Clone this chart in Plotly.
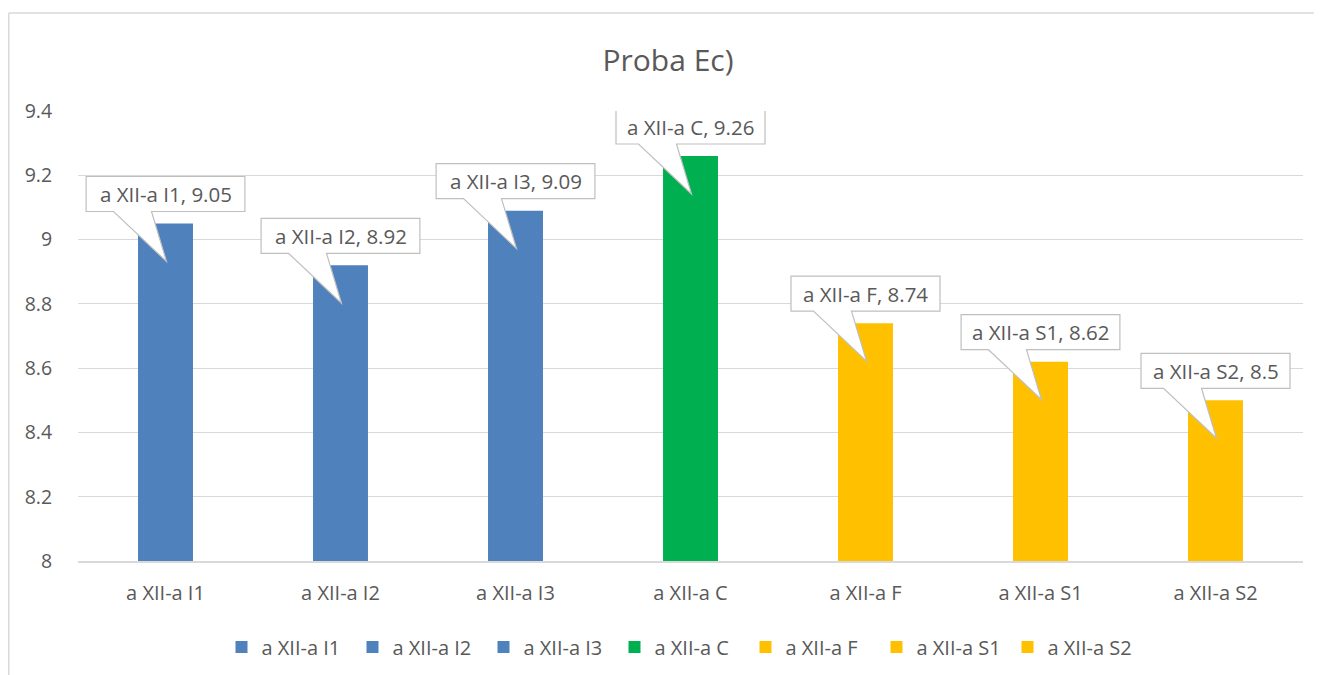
import plotly.graph_objects as go

categories = ["a XII-a I1", "a XII-a I2", "a XII-a I3", "a XII-a C", "a XII-a F", "a XII-a S1", "a XII-a S2"]
values = [9.05, 8.92, 9.09, 9.26, 8.74, 8.62, 8.5]
colors = ["#4f81bd", "#4f81bd", "#4f81bd", "#00b050", "#ffc000", "#ffc000", "#ffc000"]
y_ticks = [8, 8.2, 8.4, 8.6, 8.8, 9, 9.2, 9.4]

# page body has an 8px margin, so the figure is offset by (8, 8)
OFF = 8
W, H = 1322 - OFF, 675 - OFF
ML, MT = 78 - OFF, 111 - OFF
MR = W - (1303 - OFF)
MB = H - (561 - OFF)
PW, PH = W - ML - MR, H - MT - MB
YMIN, YMAX = 8, 9.4
dx = 1.0 / (PW / len(categories))   # category units per pixel
dy = (YMAX - YMIN) / PH              # data units per pixel

TXT = "#595959"
FONT = "'Open Sans', 'Noto Sans', sans-serif"

fig = go.Figure()
for i, (c, v, col) in enumerate(zip(categories, values, colors)):
    fig.add_trace(go.Bar(x=[i], y=[v], name=c, marker_color=col, width=0.314,
                         marker_line_width=0, hoverinfo="skip"))

shapes = []
annotations = []
for i, (c, v) in enumerate(zip(categories, values)):
    label = f"{c}, {v:g}"
    bw = 9.8 * len(label) + 2
    x0 = i - (bw / 2) * dx
    x1 = i + (bw / 2) * dx
    ytop = v + 47 * dy
    ybot = v + 12 * dy
    wl = i - 52 * dx
    wr = i - 14 * dx
    tipx = i + 1 * dx
    tipy = v - 38 * dy
    path = (f"M {x0},{ytop} L {x1},{ytop} L {x1},{ybot} L {wr},{ybot} "
            f"L {tipx},{tipy} L {wl},{ybot} L {x0},{ybot} Z")
    shapes.append(dict(type="path", path=path, xref="x", yref="y",
                       line=dict(color="#bfbfbf", width=1.2), fillcolor="white", layer="above"))
    annotations.append(dict(x=i, y=v + 29.5 * dy, xref="x", yref="y", text=label,
                            showarrow=False, font=dict(size=20.5, color=TXT, family=FONT),
                            xanchor="center", yanchor="middle"))


def px_x(p):
    return (p - OFF - ML) / PW


def px_y(p):
    return (OFF + MT + PH - p) / PH


# outer chart border (top and left visible)
shapes.append(dict(type="line", xref="paper", yref="paper", x0=px_x(8.75), x1=px_x(1330),
                   y0=px_y(13), y1=px_y(13), line=dict(color="#d9d9d9", width=1.5), layer="above"))
shapes.append(dict(type="line", xref="paper", yref="paper", x0=px_x(8.75), x1=px_x(8.75),
                   y0=px_y(13), y1=px_y(690), line=dict(color="#d9d9d9", width=1.5), layer="above"))

fig.update_layout(
    width=W, height=H,
    margin=dict(l=ML, r=MR, t=MT, b=MB, autoexpand=False),
    paper_bgcolor="white", plot_bgcolor="white",
    barmode="overlay",
    title=dict(text="Proba Ec)", x=(668 - OFF) / W, xref="container", xanchor="center",
               y=1 - (60 - OFF) / H, yref="container", yanchor="middle",
               font=dict(size=30, color=TXT, family=FONT)),
    font=dict(family=FONT, color=TXT, size=20),
    xaxis=dict(tickmode="array", tickvals=list(range(len(categories))), ticktext=categories,
               range=[-0.5, len(categories) - 0.5], showgrid=False, zeroline=False,
               showline=True, linecolor="#d9d9d9", linewidth=1.5,
               ticks="outside", ticklen=0, ticklabelstandoff=13,
               tickfont=dict(size=20, color=TXT, family=FONT), fixedrange=True),
    yaxis=dict(range=[YMIN, YMAX], tickvals=y_ticks, ticktext=[f"{t:g}" for t in y_ticks],
               showgrid=True, gridcolor="#d9d9d9", gridwidth=1.3, zeroline=False, showline=False,
               ticks="outside", ticklen=0, ticklabelstandoff=21,
               tickfont=dict(size=19.5, color=TXT, family=FONT), fixedrange=True),
    legend=dict(orientation="h", x=px_x(680), xanchor="center", y=px_y(647), yanchor="middle",
                font=dict(size=20, color=TXT, family=FONT), itemwidth=30,
                entrywidth=86, entrywidthmode="pixels",
                bgcolor="rgba(0,0,0,0)", traceorder="normal"),
    shapes=shapes,
    annotations=annotations,
)

fig.write_html("out.html", config={"displayModeBar": False},
               post_script="document.documentElement.style.overflow='hidden';"
                           "document.body.style.overflow='hidden';")
